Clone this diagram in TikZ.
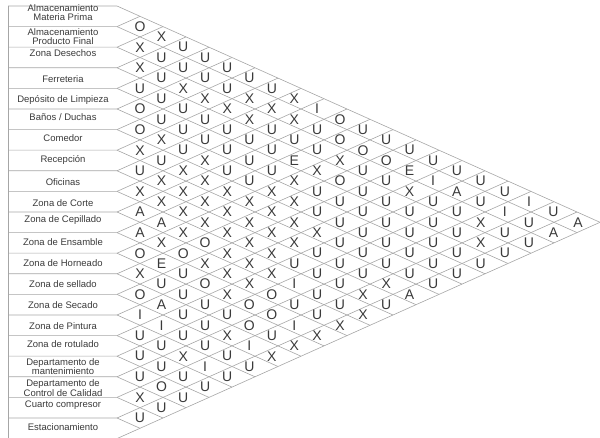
\documentclass[tikz,border=0pt]{standalone}
\usepackage{fontspec}
\setmainfont{Liberation Sans}
\definecolor{ln}{HTML}{A6A6A6}
\definecolor{tx}{HTML}{3A3A3A}
\newcommand\relmark[3]{%
  \pgfmathsetmacro\relxpos{140+21.47*(#2-1)+0.0832*(#2-1)*(#2-1)}%
  \pgfmathsetmacro\relypos{6+(2*#1+#2-1)*10.3}%
  \node[relnode] (p#1-#2) at (\relxpos,\relypos) {#3};}
\begin{document}
\begin{tikzpicture}[x=1pt,y=-1pt,
  lat/.style={draw=ln,line width=0.6pt},
  relnode/.style={text=tx,font=\fontsize{14}{14}\selectfont,inner sep=0pt},
  lbl/.style={text=tx,font=\fontsize{9.5}{9.5}\selectfont,align=center,inner sep=0pt}]
\useasboundingbox (0,0) rectangle (600,438);
% lattice and label boxes
\foreach \r in {0,...,21}{
  \pgfmathsetmacro\b{6+\r*20.6}
  \pgfmathsetmacro\dn{21-\r}
  \draw[lat] (8,\b) -- (117,\b) -- ++(\dn*23,\dn*10.3);
  \draw[lat] (117,\b) -- ++(\r*23,-\r*10.3);
}
\draw[lat] (8,6) -- (8,438.6);
% labels
\node[lbl] (l1) at (63,12.5) {Almacenamiento\\Materia Prima};
\node[lbl] (l2) at (63,36.5) {Almacenamiento\\Producto Final};
\node[lbl] (l3) at (63,53) {Zona Desechos};
\node[lbl] (l4) at (63,79) {Ferreteria};
\node[lbl] (l5) at (63,100) {Depósito de Limpieza};
\node[lbl] (l6) at (63,117) {Baños / Duchas};
\node[lbl] (l7) at (63,138) {Comedor};
\node[lbl] (l8) at (63,160) {Recepción};
\node[lbl] (l9) at (63,182) {Oficinas};
\node[lbl] (l10) at (63,203) {Zona de Corte};
\node[lbl] (l11) at (63,220) {Zona de Cepillado};
\node[lbl] (l12) at (63,242) {Zona de Ensamble};
\node[lbl] (l13) at (63,263) {Zona de Horneado};
\node[lbl] (l14) at (63,284) {Zona de sellado};
\node[lbl] (l15) at (63,305) {Zona de Secado};
\node[lbl] (l16) at (63,326) {Zona de Pintura};
\node[lbl] (l17) at (63,344) {Zona de rotulado};
\node[lbl] (l18) at (63,366.5) {Departamento de\\mantenimiento};
\node[lbl] (l19) at (63,388) {Departamento de\\Control de Calidad};
\node[lbl] (l20) at (63,405) {Cuarto compresor};
\node[lbl] (l21) at (63,427) {Estacionamiento};
% relationship letters
\foreach \L [count=\k] in {O,X,U,U,U,U,U,X,I,O,U,U,U,U,U,U,U,I,U,A} {\relmark{1}{\k}{\L}}
\foreach \L [count=\k] in {X,U,U,U,U,X,X,X,U,O,O,O,E,I,A,U,I,U,A} {\relmark{2}{\k}{\L}}
\foreach \L [count=\k] in {X,U,X,X,X,X,U,U,U,X,U,U,X,U,U,X,U,U} {\relmark{3}{\k}{\L}}
\foreach \L [count=\k] in {U,U,U,U,U,U,U,E,X,O,U,U,U,U,U,X,U} {\relmark{4}{\k}{\L}}
\foreach \L [count=\k] in {O,U,U,U,U,U,U,X,U,U,U,U,U,U,U,U} {\relmark{5}{\k}{\L}}
\foreach \L [count=\k] in {O,X,U,X,U,U,X,X,U,U,U,U,U,U,U} {\relmark{6}{\k}{\L}}
\foreach \L [count=\k] in {X,U,X,X,X,X,X,X,X,U,U,U,U,U} {\relmark{7}{\k}{\L}}
\foreach \L [count=\k] in {U,X,X,X,X,X,X,X,U,U,U,X,A} {\relmark{8}{\k}{\L}}
\foreach \L [count=\k] in {X,X,X,X,X,X,X,U,U,U,X,U} {\relmark{9}{\k}{\L}}
\foreach \L [count=\k] in {A,A,X,O,X,X,X,I,U,U,X} {\relmark{10}{\k}{\L}}
\foreach \L [count=\k] in {A,X,O,X,X,X,O,U,U,X} {\relmark{11}{\k}{\L}}
\foreach \L [count=\k] in {O,E,U,O,X,O,O,I,X} {\relmark{12}{\k}{\L}}
\foreach \L [count=\k] in {X,U,U,U,U,O,U,X} {\relmark{13}{\k}{\L}}
\foreach \L [count=\k] in {O,A,U,U,X,I,X} {\relmark{14}{\k}{\L}}
\foreach \L [count=\k] in {I,I,U,U,U,U} {\relmark{15}{\k}{\L}}
\foreach \L [count=\k] in {U,U,X,I,U} {\relmark{16}{\k}{\L}}
\foreach \L [count=\k] in {U,U,U,U} {\relmark{17}{\k}{\L}}
\foreach \L [count=\k] in {U,O,U} {\relmark{18}{\k}{\L}}
\foreach \L [count=\k] in {X,U} {\relmark{19}{\k}{\L}}
\foreach \L [count=\k] in {U} {\relmark{20}{\k}{\L}}
\end{tikzpicture}
\end{document}
